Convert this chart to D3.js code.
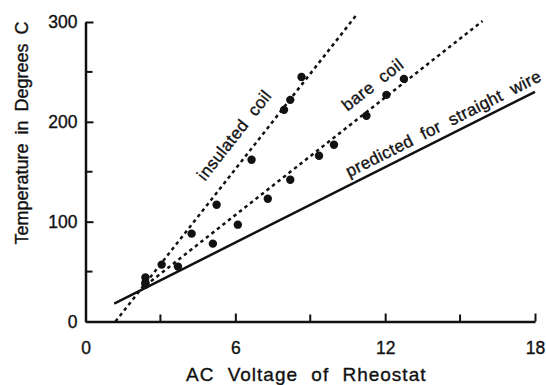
<!DOCTYPE html>
<html>
<head>
<meta charset="utf-8">
<script src="https://cdn.jsdelivr.net/npm/d3@7"></script>
<style>
  body { margin: 0; background: #fff; }
  svg text { font-family: 'Liberation Sans', Arial, sans-serif; fill: #111; stroke: #111; stroke-width: 0.35px; }
</style>
</head>
<body>
<div id="chart"></div>
<script>
// measured points (volts, degrees C)
const insulatedV = [2.4, 2.4, 3.05, 4.25, 5.25, 6.65, 7.95, 8.2, 8.65]
const insulatedT = [44, 39, 57, 88, 117, 162, 212, 222, 245]
const bareV = [2.4, 3.7, 5.1, 6.1, 7.3, 8.2, 9.35, 9.95, 11.25, 12.05, 12.75]
const bareT = [37, 55, 78, 97, 123, 142, 166, 177, 206, 227, 243]

// fitted / predicted lines, end points [volts, degrees]
const insulatedFit = [[1.2, 0], [10.85, 307]]
const bareFit = [[2.4, 36], [15.9, 301]]
const predicted = [[1.15, 18], [18, 230]]

const xTicks = [0, 6, 12, 18]
const xMinor = [3, 9, 15]
const yTicks = [0, 100, 200, 300]
const yMinor = [50, 150, 250]

const op = {
  width: 546,
  height: 385,
  margin: { left: 85.5, right: 11, top: 22, bottom: 63.5 }
}

const w = op.width, h = op.height, m = op.margin
const x = d3.scaleLinear().domain([0, 18]).range([m.left, w - m.right])
const y = d3.scaleLinear().domain([0, 300]).range([h - m.bottom, m.top])

const svg = d3.select('#chart').append('svg')
  .attr('width', w)
  .attr('height', h)

// axes, ticks pointing inward
let xAxis = svg.append('g').attr('transform', `translate(0,${y(0)})`)
  .call(d3.axisBottom(x).tickValues(xTicks).tickSizeInner(-8).tickSizeOuter(0).tickPadding(20))
xAxis.append('g').selectAll('line').data(xMinor).enter().append('line')
  .attr('x1', d => x(d)).attr('x2', d => x(d)).attr('y1', 0).attr('y2', -7)
  .attr('stroke', '#111').attr('stroke-width', 2)

let yAxis = svg.append('g').attr('transform', `translate(${x(0)},0)`)
  .call(d3.axisLeft(y).tickValues(yTicks).tickSizeInner(-8).tickSizeOuter(0).tickPadding(8))
yAxis.append('g').selectAll('line').data(yMinor).enter().append('line')
  .attr('y1', d => y(d)).attr('y2', d => y(d)).attr('x1', 0).attr('x2', 7)
  .attr('stroke', '#111').attr('stroke-width', 2)

svg.selectAll('.domain').attr('stroke', '#111').attr('stroke-width', 2.5)
svg.selectAll('.tick line').attr('stroke', '#111').attr('stroke-width', 2)
svg.selectAll('.tick text')
  .attr('font-size', '17.5px')
  .style('font-family', "'Liberation Sans', Arial, sans-serif")
  .attr('fill', '#111')

// axis titles
svg.append('text').text('AC Voltage of Rheostat')
  .attr('x', (x(0) + x(18)) / 2 - 4)
  .attr('y', 381)
  .attr('text-anchor', 'middle')
  .attr('font-size', '19px')
  .attr('letter-spacing', '1px')
  .attr('word-spacing', '7px')

svg.append('text').text('Temperature in Degrees C')
  .attr('transform', 'translate(28,133) rotate(-90)')
  .attr('text-anchor', 'middle')
  .attr('font-size', '18px')
  .attr('word-spacing', '4px')

// lines
let line = d3.line().x(d => x(d[0])).y(d => y(d[1]))
svg.append('path').datum(insulatedFit).attr('d', line)
  .attr('fill', 'none').attr('stroke', '#111').attr('stroke-width', 2.5).attr('stroke-dasharray', '3.5,3.5')
svg.append('path').datum(bareFit).attr('d', line)
  .attr('fill', 'none').attr('stroke', '#111').attr('stroke-width', 2.5).attr('stroke-dasharray', '3.5,3.5')
svg.append('path').datum(predicted).attr('d', line)
  .attr('fill', 'none').attr('stroke', '#111').attr('stroke-width', 2.5)

// points
svg.append('g').selectAll('circle').data(insulatedV).enter().append('circle')
  .attr('cx', d => x(d)).attr('cy', (d, i) => y(insulatedT[i])).attr('r', 4.2).attr('fill', '#111')
svg.append('g').selectAll('circle').data(bareV).enter().append('circle')
  .attr('cx', d => x(d)).attr('cy', (d, i) => y(bareT[i])).attr('r', 4.2).attr('fill', '#111')

// line labels, set above their line and rotated with it
function pointOn (seg, v) {
  let k = (v - seg[0][0]) / (seg[1][0] - seg[0][0])
  return [x(v), y(seg[0][1] + k * (seg[1][1] - seg[0][1]))]
}
function angleOf (seg) {
  let dx = x(seg[1][0]) - x(seg[0][0])
  let dy = y(seg[1][1]) - y(seg[0][1])
  return Math.atan2(dy, dx) * 180 / Math.PI
}
let labels = [
  { text: 'insulated coil', v: 6.64, gap: 16, seg: insulatedFit },
  { text: 'bare coil', v: 11.94, gap: 12, seg: bareFit },
  { text: 'predicted for straight wire', v: 14.56, gap: 7, seg: predicted }
]
svg.append('g').selectAll('text').data(labels).enter().append('text')
  .text(d => d.text)
  .attr('transform', d => {
    let p = pointOn(d.seg, d.v)
    return `translate(${p[0]},${p[1]}) rotate(${angleOf(d.seg)})`
  })
  .attr('y', d => -d.gap)
  .attr('text-anchor', 'middle')
  .attr('font-size', '17px')
  .attr('letter-spacing', '0.4px')
  .attr('word-spacing', '5px')
</script>
</body>
</html>
